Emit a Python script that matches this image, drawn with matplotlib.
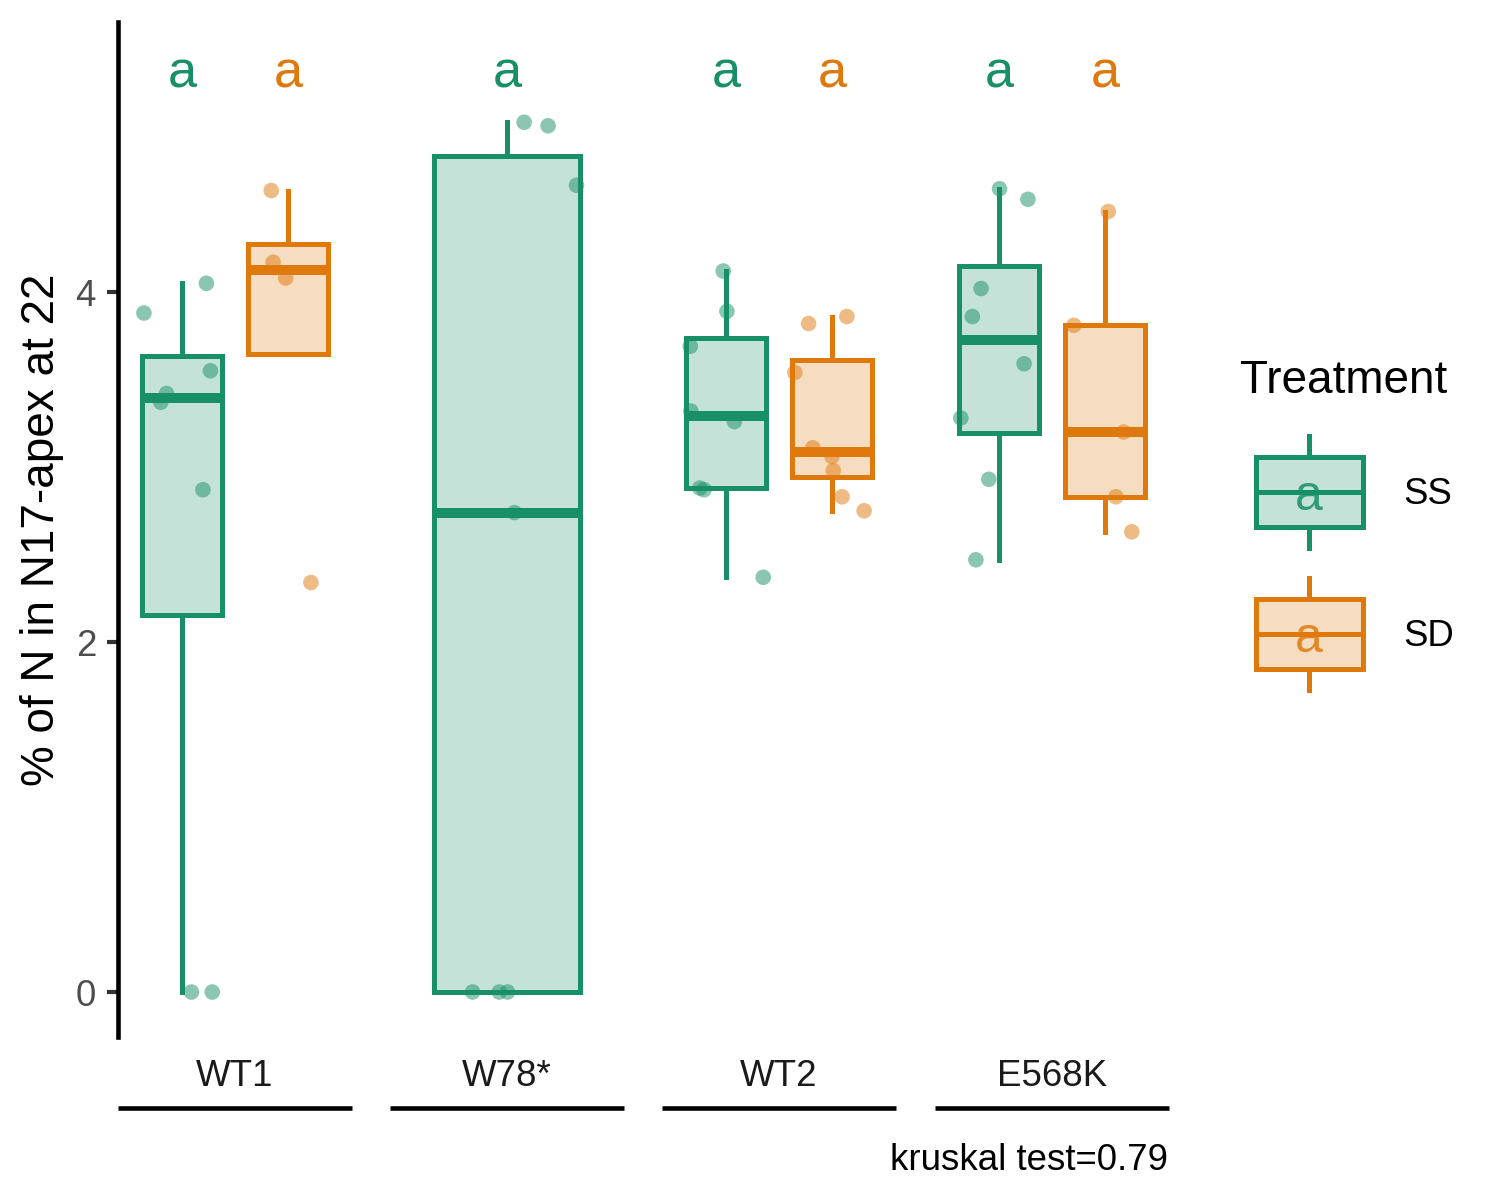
import numpy as np
import matplotlib.pyplot as plt
from matplotlib import cbook
from matplotlib.colors import to_rgba
from matplotlib.patches import Rectangle

plt.rcParams['font.family'] = ['Liberation Sans', 'DejaVu Sans']

# data
genotypes = ['WT1', 'W78*', 'WT2', 'E568K']
treatments = ['SS', 'SD']

wt1_ss = [0.0, 0.0, 2.87, 3.37, 3.42, 3.55, 3.88, 4.05]
wt1_sd = [2.34, 4.08, 4.17, 4.58]
w78_ss = [0.0, 0.0, 0.0, 2.74, 4.61, 4.95, 4.97]
wt2_ss = [2.37, 2.87, 2.88, 3.26, 3.32, 3.69, 3.89, 4.12]
wt2_sd = [2.75, 2.83, 2.98, 3.06, 3.11, 3.54, 3.82, 3.86]
e568k_ss = [2.47, 2.93, 3.28, 3.59, 3.86, 4.02, 4.53, 4.59]
e568k_sd = [2.63, 2.83, 3.20, 3.81, 4.46]

groups = {
    'WT1': [('SS', wt1_ss), ('SD', wt1_sd)],
    'W78*': [('SS', w78_ss)],
    'WT2': [('SS', wt2_ss), ('SD', wt2_sd)],
    'E568K': [('SS', e568k_ss), ('SD', e568k_sd)],
}
letters = {'WT1': ['a', 'a'], 'W78*': ['a'], 'WT2': ['a', 'a'], 'E568K': ['a', 'a']}
kruskal_p = 0.79

colors = {'SS': '#178F67', 'SD': '#DF790C'}

W, H = 1500, 1200
fig = plt.figure(figsize=(5, 4), dpi=300)

# panel layout (pixels, like the facets in the original)
panel_left = [118, 390, 662, 935]
panel_w = 234
top, bottom = 22, 1037
ylim = (-0.257, 5.543)

rng = np.random.default_rng(7)
lw = 1.2

for i, g in enumerate(genotypes):
    ax = fig.add_axes([panel_left[i] / W, 1 - bottom / H, panel_w / W, (bottom - top) / H])
    items = groups[g]
    n = len(items)
    ax.set_xlim(0.4, n + 0.6)
    ax.set_ylim(*ylim)
    for j, (t, vals) in enumerate(items):
        pos = j + 1
        col = colors[t]
        st = cbook.boxplot_stats(vals, whis=1.5)[0]
        st['whislo'] = min(st['whislo'], st['q1'])
        st['whishi'] = max(st['whishi'], st['q3'])
        st['fliers'] = []
        ax.bxp([st], positions=[pos], widths=[0.75], patch_artist=True,
               showcaps=False, showfliers=False,
               boxprops=dict(facecolor=to_rgba(col, 0.25), edgecolor=col, linewidth=lw),
               whiskerprops=dict(color=col, linewidth=lw),
               medianprops=dict(color=col, linewidth=lw * 2, solid_capstyle='butt'))
        xj = pos + rng.uniform(-0.36, 0.36, len(vals))
        ax.scatter(xj, vals, s=14, color=col, alpha=0.5, edgecolors='none', zorder=3)
        ax.text(pos, 5.171, letters[g][j], color=col, fontsize=12.5,
                ha='center', va='baseline')

    for s in ['top', 'right', 'bottom']:
        ax.spines[s].set_visible(False)
    ax.set_xticks([])
    if i == 0:
        ax.spines['left'].set_linewidth(1.1)
        ax.set_yticks([0, 2, 4])
        ax.tick_params(axis='y', labelsize=8.8, labelcolor='#4D4D4D',
                       length=2.75, width=1.0, color='#333333', pad=2.5)
    else:
        ax.spines['left'].set_visible(False)
        ax.set_yticks([])

    # strip at the bottom
    ax.text(0.5, (bottom - 1076) / (bottom - top), g, transform=ax.transAxes,
            ha='center', va='center', fontsize=8.8, color='#1A1A1A')
    ax.plot([0, 1], [(bottom - 1108) / (bottom - top)] * 2, transform=ax.transAxes,
            color='black', lw=1.1, clip_on=False, solid_capstyle='butt')

fig.text(42 / W, 1 - 530 / H, '% of N in N17-apex at 22', rotation=90,
         ha='center', va='center', fontsize=11)
fig.text(1168 / W, 1 - 1160 / H, 'kruskal test=%.2f' % kruskal_p,
         ha='right', va='center', fontsize=8.8)

# legend, drawn in pixel space
lax = fig.add_axes([0, 0, 1, 1], zorder=-1)
lax.set_xlim(0, W)
lax.set_ylim(H, 0)
lax.axis('off')
lax.text(1240, 381, 'Treatment', fontsize=11, ha='left', va='center')
for k, t in enumerate(treatments):
    col = colors[t]
    cy = 492 + k * 142
    lax.add_patch(Rectangle((1256, cy - 35), 107, 70, facecolor=to_rgba(col, 0.25),
                            edgecolor=col, lw=lw))
    lax.plot([1256, 1363], [cy, cy], color=col, lw=lw)
    lax.plot([1309, 1309], [cy - 56, cy - 35], color=col, lw=lw)
    lax.plot([1309, 1309], [cy + 35, cy + 56], color=col, lw=lw)
    lax.text(1309, cy + 5, 'a', color=col, alpha=0.85, fontsize=12, ha='center', va='center')
    lax.text(1403, cy + 3, t, fontsize=8.8, ha='left', va='center')

fig.savefig('out.png', dpi=300)
